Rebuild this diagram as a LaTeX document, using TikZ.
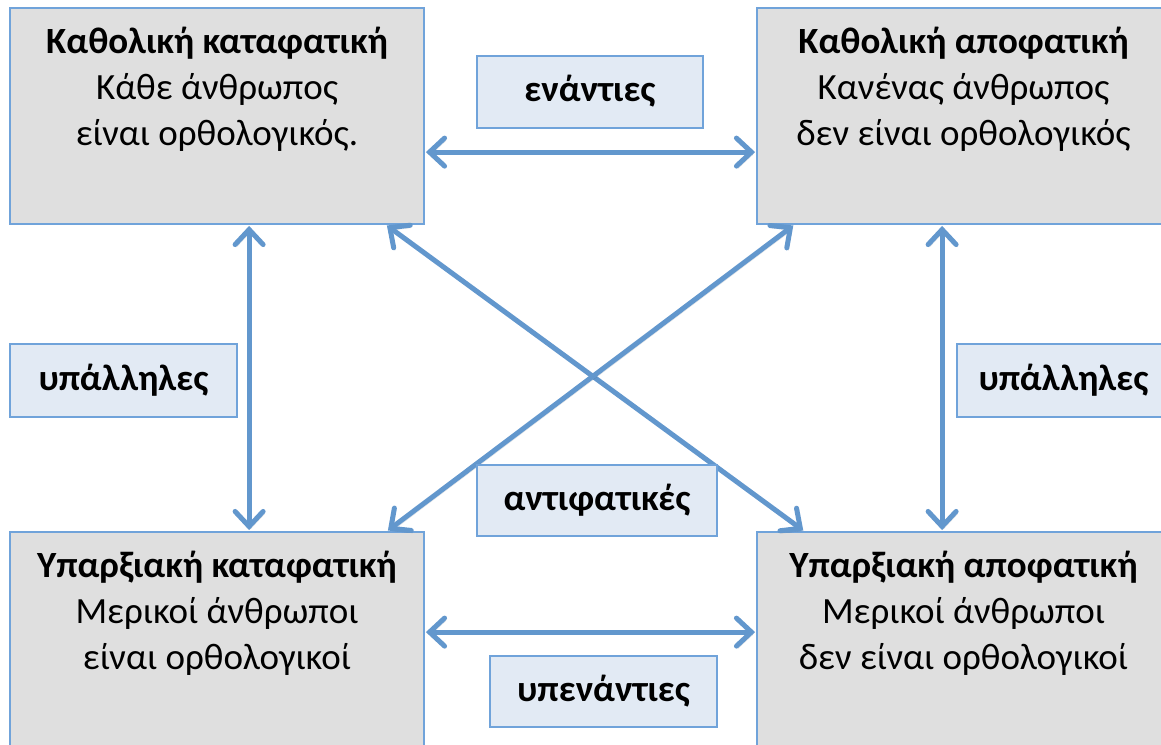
\documentclass[tikz,border=0pt]{standalone}
\usepackage{fontspec}
\setmainfont{Carlito}
\usetikzlibrary{arrows.meta}
\definecolor{arrowblue}{RGB}{98,151,205}
\definecolor{edgeblue}{RGB}{112,163,218}
\definecolor{boxgray}{RGB}{223,223,223}
\definecolor{labelfill}{RGB}{226,234,244}
\tikzset{
  mainbox/.style={draw=edgeblue, line width=1.8pt, fill=boxgray, inner sep=0pt, rectangle},
  lblbox/.style={draw=edgeblue, line width=1.8pt, fill=labelfill, inner sep=0pt, rectangle,
    font=\fontsize{37}{44}\selectfont\bfseries, text height=19pt, text depth=0pt},
  ttl/.style={anchor=base, inner sep=0pt, font=\fontsize{37}{44}\selectfont\bfseries},
  txt/.style={anchor=base, inner sep=0pt, font=\fontsize{37}{44}\selectfont},
  conn/.style={draw=arrowblue, line width=5pt,
    {Straight Barb[length=15pt,width=28pt,line cap=round]}-{Straight Barb[length=15pt,width=28pt,line cap=round]},
    shorten <=1pt, shorten >=1pt,
    preaction={draw=black, draw opacity=0.12, transform canvas={shift={(1.5pt,-2.5pt)}}}}
}
\begin{document}
\begin{tikzpicture}[x=1pt,y=-1pt]
\useasboundingbox (0,0) rectangle (1161,744);
\fill[white] (0,0) rectangle (1161,744);
% main boxes
\node[mainbox, minimum width=414pt, minimum height=216pt] (ka)  at (217,116) {};
\node[mainbox, minimum width=413pt, minimum height=216pt] (kap) at (963.5,116) {};
\node[mainbox, minimum width=414pt, minimum height=228pt] (ya)  at (217,646) {};
\node[mainbox, minimum width=413pt, minimum height=228pt] (yap) at (963.5,646) {};
% box texts
\node[ttl] (ka1) at (217,53) {Καθολική καταφατική};
\node[txt] (ka2) at (217,99) {Κάθε άνθρωπος};
\node[txt] (ka3) at (217,145) {είναι ορθολογικός.};
\node[ttl] (kap1) at (963.5,53) {Καθολική αποφατική};
\node[txt] (kap2) at (963.5,99) {Κανένας άνθρωπος};
\node[txt] (kap3) at (963.5,145) {δεν είναι ορθολογικός};
\node[ttl] (ya1) at (217,577) {Υπαρξιακή καταφατική};
\node[txt] (ya2) at (217,623) {Μερικοί άνθρωποι};
\node[txt] (ya3) at (217,669) {είναι ορθολογικοί};
\node[ttl] (yap1) at (963.5,577) {Υπαρξιακή αποφατική};
\node[txt] (yap2) at (963.5,623) {Μερικοί άνθρωποι};
\node[txt] (yap3) at (963.5,669) {δεν είναι ορθολογικοί};
% connectors
\draw[conn] ([yshift=-145pt]ka.north east) -- ([yshift=-145pt]kap.north west);
\draw[conn] ([yshift=-101pt]ya.north east) -- ([yshift=-101pt]yap.north west);
\draw[conn] ([xshift=240pt]ka.south west) -- ([xshift=240pt]ya.north west);
\draw[conn] ([xshift=186pt]kap.south west) -- ([xshift=186pt]yap.north west);
\draw[conn] ([xshift=377pt]ka.south west) -- ([xshift=48pt]yap.north west);
\draw[conn] ([xshift=38pt]kap.south west) -- ([xshift=378pt]ya.north west);
% labels
\node[lblbox, minimum width=226pt, minimum height=72pt] (enant) at (590,92) {ενάντιες};
\node[lblbox, minimum width=227pt, minimum height=73pt] (ypl) at (123.5,380.5) {υπάλληλες};
\node[lblbox, minimum width=213pt, minimum height=73pt] (ypr) at (1063.5,380.5) {υπάλληλες};
\node[lblbox, minimum width=240pt, minimum height=71pt] (antif) at (597,500.5) {αντιφατικές};
\node[lblbox, minimum width=227pt, minimum height=71pt] (ypen) at (603.5,691.5) {υπενάντιες};
\end{tikzpicture}
\end{document}
